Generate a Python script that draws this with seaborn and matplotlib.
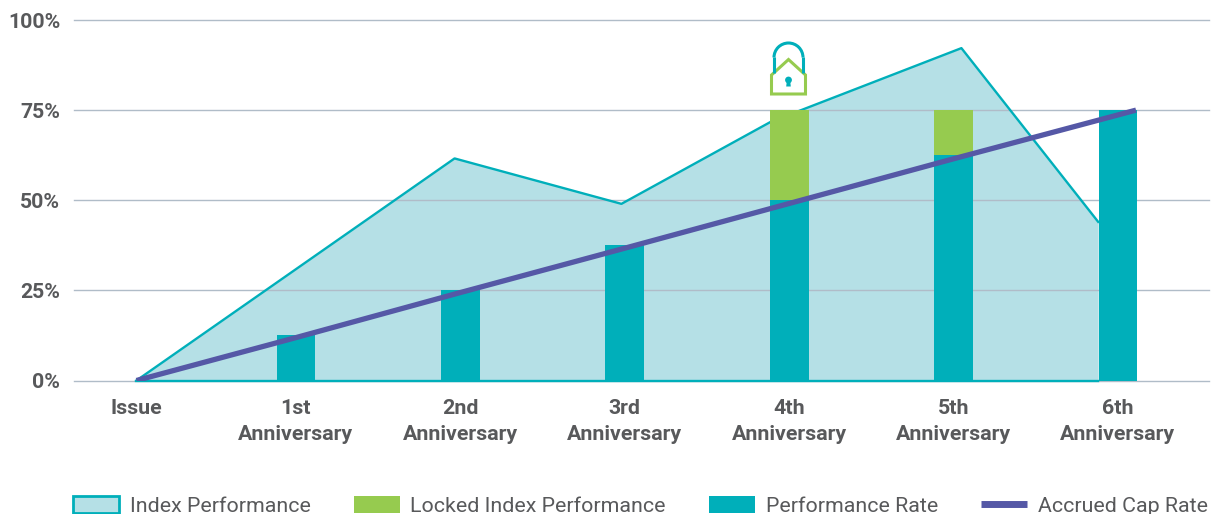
import matplotlib
matplotlib.use('Agg')
import matplotlib.pyplot as plt
import pandas as pd
import seaborn as sns
from matplotlib.lines import Line2D
from matplotlib.patches import Arc, Circle, Patch, Polygon

# chart values
tick_labels = ['Issue', '1st\nAnniversary', '2nd\nAnniversary', '3rd\nAnniversary',
               '4th\nAnniversary', '5th\nAnniversary', '6th\nAnniversary']
tick_pos = [0.03, 1, 2, 3, 4, 5, 6]

index_x = [0.03, 1.965, 2.98, 3.886, 5.048, 5.88]
index_y = [0, 61.6, 49, 71.7, 92.2, 44]

bar_x = [1, 2, 3, 4, 5, 6]
rate_vals = [12.5, 25, 37.5, 50, 62.5, 75]
locked_vals = [0, 0, 0, 25, 12.5, 0]

accrued_x = [0.03, 1, 2, 3, 4, 5, 6.11]
accrued_y = [0, 11.9, 24.4, 36.7, 49.1, 61.5, 75]

TEAL = '#00afba'
LIGHT = '#b5e0e6'
GREEN = '#96cb4f'
PURPLE = '#5558a6'
GRID = '#b0bcc8'
TEXT = '#58595b'

plt.rcParams['font.family'] = ['Roboto', 'DejaVu Sans']
W, H = 1214, 514
fig = plt.figure(figsize=(W / 100, H / 100), dpi=100)
ax = fig.add_axes([74 / W, (H - 380.5) / H, 1135 / W, 360.5 / H])

bars = pd.DataFrame({'x': bar_x, 'rate': rate_vals, 'locked': locked_vals})
bars['top'] = bars['rate'] + bars['locked']

# area first, bars sit on top of it
ax.fill_between(index_x, index_y, 0, color=LIGHT, lw=0, zorder=1)
sns.lineplot(x=index_x, y=index_y, sort=False, color=TEAL, lw=1.7, ax=ax, zorder=2.6)
sns.lineplot(x=[index_x[0], index_x[-1]], y=[0, 0], color=TEAL, lw=1.7, ax=ax, zorder=2.6,
             clip_on=False)
sns.barplot(data=bars, x='x', y='top', native_scale=True, width=0.236, color=GREEN,
            saturation=1, ax=ax, zorder=3)
sns.barplot(data=bars, x='x', y='rate', native_scale=True, width=0.236, color=TEAL,
            saturation=1, ax=ax, zorder=4)
sns.lineplot(x=accrued_x, y=accrued_y, sort=False, color=PURPLE, lw=3.8, ax=ax, zorder=6,
             solid_capstyle='butt')

ax.set_xlim(-0.35, 6.554)
ax.set_ylim(0, 100)
ax.set_yticks([0, 25, 50, 75, 100])
ax.set_yticklabels(['0%', '25%', '50%', '75%', '100%'], fontsize=15.3, fontweight='bold', color=TEXT)
ax.set_xticks(tick_pos)
ax.set_xticklabels(tick_labels, fontsize=15.4, fontweight='bold', color=TEXT, linespacing=1.5)
ax.tick_params(axis='both', length=0)
ax.tick_params(axis='x', pad=13)
ax.tick_params(axis='y', pad=10)
ax.set_xlabel('')
ax.set_ylabel('')
for s in ax.spines.values():
    s.set_visible(False)
ax.patch.set_alpha(0)
ax.grid(axis='y', color=GRID, lw=1)
ax.set_axisbelow(False)
for ln in ax.get_ygridlines():
    ln.set_zorder(2.5)
    ln.set_clip_on(False)

# lock icon above the 4th anniversary, in pixel coordinates
ov = fig.add_axes([0, 0, 1, 1])
ov.set_xlim(0, W)
ov.set_ylim(H, 0)
ov.axis('off')
ov.add_patch(Arc((788.5, 57.5), 29, 29, theta1=180, theta2=360, color=TEAL, lw=2.2))
ov.plot([774, 774], [57, 73], color=TEAL, lw=2.2, solid_capstyle='butt')
ov.plot([803, 803], [57, 73], color=TEAL, lw=2.2, solid_capstyle='butt')
ov.add_patch(Polygon([(771.5, 94), (771.5, 75), (788.5, 59.5), (805.5, 75), (805.5, 94)],
                     closed=True, fc='white', ec=GREEN, lw=2.2))
ov.add_patch(Circle((788.5, 80), 3.4, fc=TEAL, ec='none'))
ov.add_patch(Polygon([(786.8, 81), (790.2, 81), (790.8, 86.5), (786.2, 86.5)], fc=TEAL, ec='none'))

handles = [Patch(fc=LIGHT, ec=TEAL, lw=2), Patch(fc=GREEN), Patch(fc=TEAL),
           Line2D([], [], color=PURPLE, lw=5, solid_capstyle='butt')]
labels = ['Index Performance', 'Locked Index Performance', 'Performance Rate', 'Accrued Cap Rate']
fig.legend(handles, labels, loc='lower left', bbox_to_anchor=(73 / W, -2 / H), ncol=4, frameon=False,
           fontsize=15.4, labelcolor=TEXT, handlelength=2.15, handleheight=0.9,
           handletextpad=0.5, columnspacing=2.02, borderpad=0, borderaxespad=0)

fig.savefig('out.png', dpi=100)
